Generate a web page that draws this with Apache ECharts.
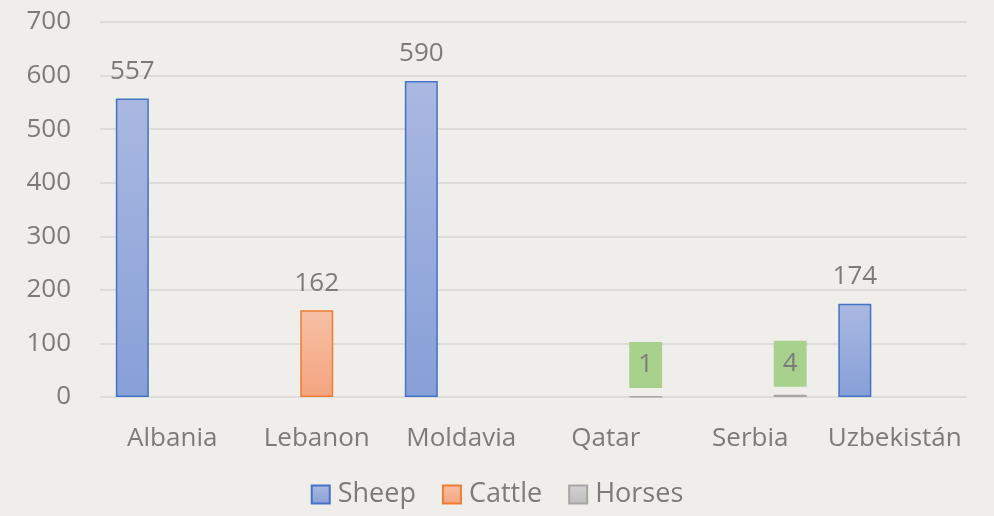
<!DOCTYPE html>
<html><head><meta charset="utf-8">
<script src="https://cdn.jsdelivr.net/npm/echarts@6/dist/echarts.min.js"></script>
<style>html,body{margin:0;padding:0;background:#efeeea;}#c{width:994px;height:516px;}</style>
</head><body><div id="c"></div>
<script>
const categories = ['Albania', 'Lebanon', 'Moldavia', 'Qatar', 'Serbia', 'Uzbekistán'];
const sheep = [557, null, 590, null, null, 174];
const cattle = [null, 162, null, null, null, null];
const horses = [null, null, null, 1, 4, null];
const yTicks = { min: 0, max: 700, interval: 100 };

const FONT = 'Open Sans';
const TXT = '#7b7b7b';
function grad(top, bottom) {
  return new echarts.graphic.LinearGradient(0, 0, 0, 1, [
    { offset: 0, color: top }, { offset: 1, color: bottom }
  ]);
}
const plainLabel = { show: true, position: 'top', distance: 14, color: TXT, fontFamily: FONT, fontSize: 26 };
const chart = echarts.init(document.getElementById('c'), null, { renderer: 'canvas' });
chart.setOption({
  backgroundColor: '#efeeea',
  animation: false,
  grid: { left: 100, right: 27, top: 22, bottom: 119, containLabel: false },
  legend: {
    bottom: 3, left: 'center', itemWidth: 18, itemHeight: 18, itemGap: 26, icon: 'rect',
    textStyle: { color: TXT, fontFamily: FONT, fontSize: 27, padding: [0, 0, 0, 3] },
    data: ['Sheep', 'Cattle', 'Horses']
  },
  xAxis: {
    type: 'category', data: categories,
    axisLine: { show: false }, axisTick: { show: false },
    axisLabel: { color: TXT, fontFamily: FONT, fontSize: 26, margin: 29, interval: 0 }
  },
  yAxis: {
    type: 'value', min: yTicks.min, max: yTicks.max, interval: yTicks.interval,
    axisLine: { show: false }, axisTick: { show: false },
    axisLabel: { color: TXT, fontFamily: FONT, fontSize: 26, margin: 29 },
    splitLine: { lineStyle: { color: '#d6d6d4', width: 1.5 } }
  },
  series: [
    { name: 'Sheep', type: 'bar', data: sheep, barWidth: 33, barGap: '21%', barCategoryGap: '22%',
      itemStyle: { color: grad('#aab8e1', '#87a0d8'), borderColor: '#4472c4', borderWidth: 1.5 },
      label: plainLabel },
    { name: 'Cattle', type: 'bar', data: cattle, barWidth: 33,
      itemStyle: { color: grad('#f6c0a5', '#f4a47f'), borderColor: '#ed7d31', borderWidth: 1.5 },
      label: plainLabel },
    { name: 'Horses', type: 'bar', data: horses, barWidth: 33,
      itemStyle: { color: grad('#d2d2d2', '#bdbdbd'), borderColor: '#a5a5a5', borderWidth: 1.5 },
      label: { show: true, position: 'top', distance: 8, color: TXT, fontFamily: FONT, fontSize: 26,
        backgroundColor: '#a9d18e', padding: [10, 9, 10, 9] } }
  ]
});
</script></body></html>
